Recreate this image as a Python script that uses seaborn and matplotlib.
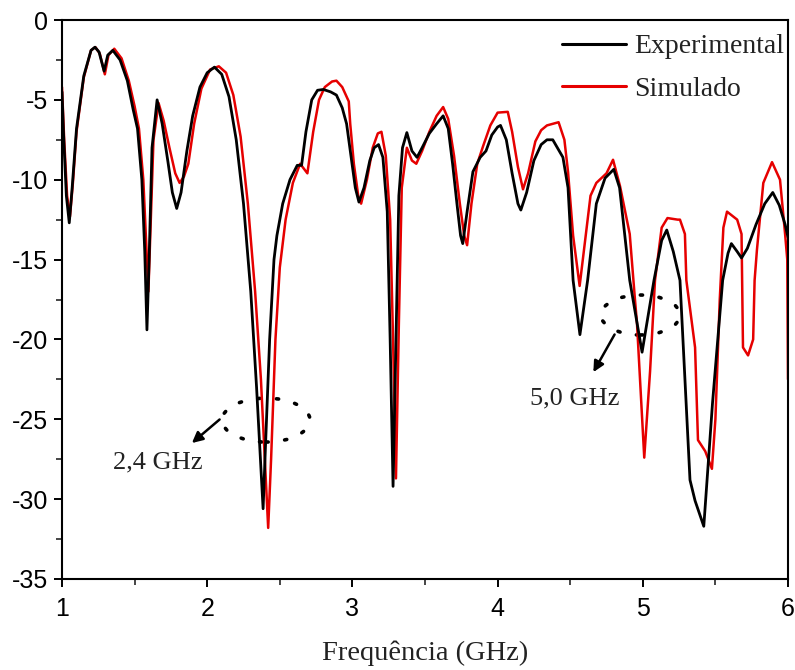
import numpy as np
import pandas as pd
import matplotlib
matplotlib.use("Agg")
import matplotlib.pyplot as plt
import seaborn as sns
from matplotlib.patches import Ellipse
from matplotlib.ticker import MultipleLocator

# ---- data ----
exp_freq = [1.000, 1.010, 1.030, 1.050, 1.070, 1.100, 1.150, 1.200, 1.227, 1.255, 1.290, 1.315,
            1.350, 1.400, 1.450, 1.490, 1.520, 1.550, 1.570, 1.585, 1.600, 1.620, 1.655, 1.690,
            1.730, 1.760, 1.790, 1.820, 1.860, 1.900, 1.950, 2.000, 2.050, 2.100, 2.150, 2.200,
            2.250, 2.300, 2.340, 2.370, 2.385, 2.400, 2.430, 2.460, 2.480, 2.520, 2.570, 2.620,
            2.650, 2.680, 2.720, 2.760, 2.800, 2.850, 2.890, 2.930, 2.960, 2.990, 3.020, 3.045,
            3.080, 3.120, 3.150, 3.180, 3.210, 3.240, 3.260, 3.280, 3.300, 3.320, 3.345, 3.375,
            3.410, 3.445, 3.480, 3.530, 3.580, 3.625, 3.660, 3.690, 3.720, 3.745, 3.760, 3.790,
            3.830, 3.880, 3.920, 3.960, 4.000, 4.020, 4.060, 4.100, 4.140, 4.160, 4.200, 4.250,
            4.300, 4.340, 4.380, 4.450, 4.485, 4.520, 4.567, 4.620, 4.680, 4.740, 4.800, 4.840,
            4.910, 4.995, 5.077, 5.130, 5.165, 5.210, 5.256, 5.325, 5.360, 5.420, 5.480, 5.550,
            5.587, 5.610, 5.650, 5.680, 5.720, 5.780, 5.840, 5.895, 5.940, 5.980, 6.000]
exp_s11 = [-4.5, -7.0, -11.0, -12.7, -10.5, -6.8, -3.5, -1.9, -1.7, -2.0, -3.2, -2.2,
           -1.9, -2.5, -3.8, -5.6, -6.8, -10.0, -14.5, -19.4, -15.0, -8.0, -5.0, -6.5,
           -8.9, -10.8, -11.8, -10.8, -8.2, -6.0, -4.2, -3.3, -2.95, -3.4, -4.8, -7.5,
           -11.5, -17.0, -23.0, -28.0, -30.6, -27.0, -20.0, -15.0, -13.5, -11.5, -10.0, -9.1,
           -9.1, -7.0, -5.0, -4.4, -4.35, -4.5, -4.7, -5.5, -6.5, -8.5, -10.5, -11.4,
           -10.5, -8.8, -8.0, -7.8, -8.6, -12.0, -20.0, -29.2, -20.0, -11.0, -8.0, -7.05,
           -8.2, -8.6, -8.0, -7.1, -6.5, -6.0, -6.8, -9.0, -11.5, -13.5, -14.0, -12.0,
           -9.5, -8.6, -8.2, -7.2, -6.7, -6.6, -7.5, -9.6, -11.5, -11.9, -10.8, -8.8,
           -7.8, -7.5, -7.5, -8.6, -10.5, -16.3, -19.7, -16.3, -11.5, -9.9, -9.35, -10.5,
           -16.3, -20.8, -16.3, -13.8, -13.15, -14.5, -16.3, -28.8, -30.1, -31.7, -24.0, -16.3,
           -14.6, -14.0, -14.5, -14.9, -14.3, -12.8, -11.5, -10.8, -11.6, -12.8, -13.6]

sim_freq = [1.000, 1.015, 1.035, 1.055, 1.075, 1.100, 1.150, 1.200, 1.230, 1.260, 1.295, 1.320,
            1.360, 1.410, 1.460, 1.500, 1.530, 1.560, 1.580, 1.595, 1.610, 1.630, 1.665, 1.700,
            1.740, 1.780, 1.810, 1.840, 1.870, 1.910, 1.960, 2.020, 2.080, 2.130, 2.180, 2.230,
            2.280, 2.330, 2.370, 2.400, 2.420, 2.440, 2.470, 2.500, 2.540, 2.590, 2.640, 2.690,
            2.730, 2.770, 2.810, 2.860, 2.890, 2.930, 2.960, 2.975, 2.985, 3.010, 3.040, 3.060,
            3.100, 3.140, 3.175, 3.200, 3.230, 3.260, 3.280, 3.300, 3.320, 3.340, 3.375, 3.410,
            3.440, 3.480, 3.530, 3.580, 3.625, 3.660, 3.700, 3.740, 3.770, 3.790, 3.820, 3.860,
            3.900, 3.950, 4.000, 4.070, 4.100, 4.140, 4.175, 4.210, 4.260, 4.300, 4.340, 4.420,
            4.460, 4.485, 4.520, 4.565, 4.600, 4.640, 4.680, 4.750, 4.795, 4.843, 4.910, 4.946,
            4.960, 5.010, 5.050, 5.084, 5.130, 5.170, 5.240, 5.256, 5.290, 5.300, 5.360, 5.380,
            5.430, 5.476, 5.500, 5.530, 5.555, 5.580, 5.650, 5.680, 5.690, 5.725, 5.760, 5.770,
            5.786, 5.830, 5.890, 5.945, 5.980, 5.995, 6.000]
sim_s11 = [-4.2, -7.5, -11.0, -12.3, -10.2, -7.0, -3.6, -1.9, -1.7, -2.1, -3.4, -2.2,
           -1.8, -2.4, -3.8, -5.4, -6.8, -10.0, -14.0, -17.0, -13.0, -7.5, -5.2, -6.3,
           -8.0, -9.6, -10.2, -9.8, -9.0, -6.5, -4.3, -3.1, -2.9, -3.3, -4.7, -7.3,
           -11.5, -17.0, -22.5, -28.0, -31.8, -27.5, -20.0, -15.5, -12.5, -10.2, -9.0, -9.6,
           -7.0, -5.0, -4.2, -3.85, -3.8, -4.2, -4.8, -5.1, -6.5, -9.0, -11.0, -11.5,
           -10.0, -8.0, -7.1, -7.0, -8.5, -12.5, -20.0, -28.7, -19.0, -10.5, -8.0, -8.8,
           -9.0, -8.2, -7.0, -6.0, -5.45, -6.2, -8.5, -11.5, -13.5, -14.1, -11.5, -9.0,
           -7.9, -6.6, -5.8, -5.75, -7.0, -9.2, -10.6, -9.6, -7.6, -6.9, -6.6, -6.4,
           -7.5, -9.5, -13.5, -16.65, -14.0, -11.0, -10.2, -9.6, -8.75, -10.4, -13.4, -17.5,
           -19.0, -27.4, -22.0, -16.3, -13.0, -12.4, -12.5, -12.5, -13.4, -16.3, -20.5, -26.3,
           -27.0, -28.1, -25.0, -17.5, -13.0, -12.0, -12.5, -13.4, -20.5, -21.0, -20.0, -16.3,
           -14.4, -10.2, -8.9, -10.0, -13.4, -15.0, -22.5]

series_names = ["Experimental", "Simulado"]
series_colors = ["#000000", "#e60000"]
x_ticks = [1, 2, 3, 4, 5, 6]
y_ticks = [0, -5, -10, -15, -20, -25, -30, -35]
x_label = "Frequência (GHz)"
annotations = [("2,4 GHz", 1.661, -27.7), ("5,0 GHz", 4.53, -23.7)]

df = pd.concat([
    pd.DataFrame({"f": exp_freq, "s11": exp_s11, "serie": series_names[0]}),
    pd.DataFrame({"f": sim_freq, "s11": sim_s11, "serie": series_names[1]}),
], ignore_index=True)

sns.set_style("ticks")
plt.rcParams["font.family"] = ["Liberation Sans", "DejaVu Sans"]

fig = plt.figure(figsize=(7.95, 6.7), dpi=100)
ax = fig.add_axes([62 / 795, 1 - 579 / 670, 726 / 795, 559 / 670])

# draw simulated first then experimental on top
sns.lineplot(data=df[df.serie == series_names[1]], x="f", y="s11", color=series_colors[1],
             lw=1.8, ax=ax, sort=False, estimator=None, label=series_names[1])
sns.lineplot(data=df[df.serie == series_names[0]], x="f", y="s11", color=series_colors[0],
             lw=2.0, ax=ax, sort=False, estimator=None, label=series_names[0])

ax.set_xlim(1, 6)
ax.set_ylim(-35, 0)
ax.set_xticks(x_ticks)
ax.set_yticks(y_ticks)
ax.set_xticklabels([str(t) for t in x_ticks])
ax.set_yticklabels([str(t) for t in y_ticks])
ax.xaxis.set_minor_locator(MultipleLocator(0.5))
ax.yaxis.set_minor_locator(MultipleLocator(2.5))
ax.tick_params(which="major", direction="out", length=6, width=1.4, labelsize=18, colors="black")
ax.tick_params(which="minor", direction="out", length=4, width=1.2)
ax.tick_params(axis="x", pad=7)
ax.tick_params(axis="y", pad=4)
for s in ax.spines.values():
    s.set_visible(True)
    s.set_linewidth(1.5)
    s.set_color("black")

ax.set_xlabel(x_label, fontsize=20.5, family=["Liberation Serif", "DejaVu Serif"], labelpad=14,
              color="#222222")
ax.set_ylabel("")

# legend
h, l = ax.get_legend_handles_labels()
order = [l.index(series_names[0]), l.index(series_names[1])]
leg = ax.legend([h[i] for i in order], [l[i] for i in order], loc="upper right",
                bbox_to_anchor=(0.995, 0.975), frameon=False, borderaxespad=0, borderpad=0,
                handlelength=2.3, handletextpad=0.3, labelspacing=0.6,
                prop={"family": ["Liberation Serif"], "size": 20})
for line in leg.get_lines():
    line.set_linewidth(2.2)
for t in leg.get_texts():
    t.set_color("#222222")

# dotted ellipses and arrows
ax.add_patch(Ellipse((2.405, -25.05), 0.606, 2.75, fill=False, ec="black", lw=2.6,
                     ls=(0, (0.6, 4.6)), capstyle="round"))
ax.add_patch(Ellipse((4.984, -18.47), 0.544, 2.5, fill=False, ec="black", lw=2.6,
                     ls=(0, (0.6, 4.6)), capstyle="round"))
ax.annotate("", xy=(1.88, -26.6), xytext=(2.10, -24.9),
            arrowprops=dict(arrowstyle="-|>", color="black", lw=1.8, mutation_scale=16))
ax.annotate("", xy=(4.65, -22.2), xytext=(4.815, -19.54),
            arrowprops=dict(arrowstyle="-|>", color="black", lw=1.8, mutation_scale=16))
ax.text(annotations[0][1], annotations[0][2], annotations[0][0], ha="center", va="center",
        fontsize=19, family=["Liberation Serif"], color="#222222")
ax.text(annotations[1][1], annotations[1][2], annotations[1][0], ha="center", va="center",
        fontsize=19, family=["Liberation Serif"], color="#222222")

fig.savefig("out.png", dpi=100)
